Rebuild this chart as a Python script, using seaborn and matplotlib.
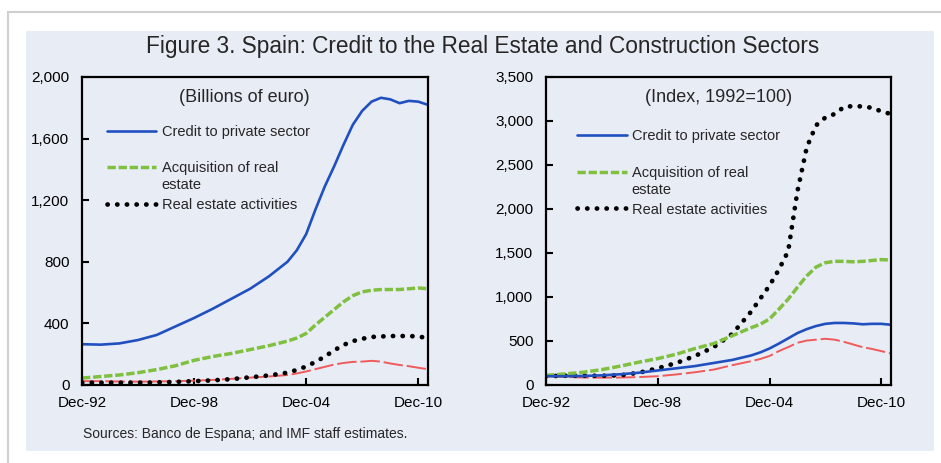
import pandas as pd
import matplotlib
matplotlib.use("Agg")
import matplotlib.pyplot as plt
import matplotlib.dates as mdates
from matplotlib.patches import Rectangle
from matplotlib.ticker import FuncFormatter
import seaborn as sns

# ==========================================
# 1. DATA
# ==========================================
dates = ['1992-12', '1993-12', '1994-12', '1995-12', '1996-12', '1997-12',
         '1998-12', '1999-12', '2000-12', '2001-12', '2002-12', '2003-12',
         '2004-06', '2004-12', '2005-06', '2005-12', '2006-06', '2006-12',
         '2007-06', '2007-12', '2008-06', '2008-12', '2009-06', '2009-12',
         '2010-06', '2010-12', '2011-06']

# Left panel: billions of euro
credit_bn = [265, 262, 270, 292, 325, 380, 435, 495, 560, 625, 705, 800,
             875, 980, 1140, 1290, 1420, 1560, 1690, 1780, 1840, 1865,
             1855, 1830, 1845, 1840, 1820]
acquisition_bn = [45, 55, 65, 80, 100, 125, 160, 185, 205, 230, 255, 285,
                  305, 335, 390, 440, 490, 540, 580, 605, 615, 620, 620,
                  620, 625, 630, 625]
activities_bn = [15, 15, 15, 15, 17, 20, 25, 30, 38, 50, 62, 80, 98, 120,
                 150, 185, 225, 260, 285, 300, 312, 315, 318, 318, 318,
                 315, 305]
construction_bn = [25, 25, 23, 22, 23, 25, 28, 33, 40, 48, 55, 65, 75, 88,
                   103, 118, 133, 143, 150, 152, 157, 152, 140, 130, 122,
                   112, 103]

# Right panel: index, 1992=100
credit_idx = [100, 100, 102, 110, 122, 140, 165, 190, 215, 250, 285, 335,
              370, 415, 470, 530, 590, 635, 670, 695, 705, 705, 700, 690,
              695, 695, 685]
acquisition_idx = [110, 125, 145, 175, 215, 260, 300, 350, 415, 470, 560,
                   650, 690, 750, 860, 975, 1110, 1240, 1340, 1390, 1405,
                   1405, 1400, 1405, 1415, 1425, 1420]
activities_idx = [100, 105, 105, 105, 110, 140, 190, 250, 330, 430, 580,
                  830, 980, 1130, 1310, 1520, 2200, 2700, 2950, 3040, 3080,
                  3160, 3170, 3165, 3150, 3110, 3080]
construction_idx = [100, 92, 85, 83, 85, 90, 100, 120, 145, 175, 225, 270,
                    295, 330, 385, 430, 480, 505, 515, 525, 515, 490, 460,
                    430, 410, 385, 360]

series_labels = ['Credit to private sector', 'Acquisition of real',
                 'Real estate activities']
x_ticks = ['1992-12-01', '1998-12-01', '2004-12-01', '2010-12-01']

left_df = pd.DataFrame({'date': pd.to_datetime(dates), 'credit': credit_bn,
                        'acquisition': acquisition_bn,
                        'activities': activities_bn,
                        'construction': construction_bn})
right_df = pd.DataFrame({'date': pd.to_datetime(dates), 'credit': credit_idx,
                         'acquisition': acquisition_idx,
                         'activities': activities_idx,
                         'construction': construction_idx})

# ==========================================
# 2. STYLE
# ==========================================
sns.set_style('ticks')
plt.rcParams['font.family'] = ['Liberation Sans', 'DejaVu Sans']

panel_bg = '#e8ecf5'
blue = '#2050c0'
green = '#80c040'
red = '#f05a5a'

W, H = 941, 463
fig = plt.figure(figsize=(W / 100, H / 100), dpi=100, facecolor='white')

# card and light panel behind the charts
fig.patches.append(Rectangle((8 / W, -0.1), 1.2, 1.1 - 12 / H,
                             transform=fig.transFigure, facecolor='white',
                             edgecolor='#cfcfcf', lw=1.5, zorder=-3))
fig.patches.append(Rectangle((26 / W, 1 - 451 / H), (934 - 26) / W,
                             (451 - 31) / H, transform=fig.transFigure,
                             facecolor=panel_bg, edgecolor='none', zorder=-2))

ax1 = fig.add_axes([82 / W, 1 - 385 / H, 346 / W, 308 / H])
ax2 = fig.add_axes([546 / W, 1 - 385 / H, 345 / W, 308 / H])


def draw_panel(ax, df, ymax, ystep, subtitle, sub_x, leg_x, leg_y):
    ax.set_facecolor(panel_bg)
    sns.lineplot(data=df, x='date', y='construction', ax=ax, color=red,
                 linewidth=1.4, linestyle=(0, (10, 2)), legend=False)
    sns.lineplot(data=df, x='date', y='activities', ax=ax, color='black',
                 linewidth=3.4, linestyle=(0, (0.05, 2)),
                 dash_capstyle='round', legend=False)
    sns.lineplot(data=df, x='date', y='acquisition', ax=ax, color=green,
                 linewidth=2.5, linestyle=(0, (2.4, 0.8)), legend=False)
    sns.lineplot(data=df, x='date', y='credit', ax=ax, color=blue,
                 linewidth=1.9, legend=False)

    ax.set(xlabel='', ylabel='')
    ax.set_xlim(pd.Timestamp('1992-12-01'), pd.Timestamp('2011-06-10'))
    ax.set_ylim(0, ymax)
    ax.set_yticks(range(0, ymax + 1, ystep))
    ax.yaxis.set_major_formatter(FuncFormatter(lambda v, p: f'{int(v):,}'))
    ax.set_xticks(pd.to_datetime(x_ticks))
    ax.xaxis.set_major_formatter(mdates.DateFormatter('%b-%y'))
    ax.tick_params(direction='in', length=5, width=1.5, labelsize=11,
                   colors='black')
    ax.tick_params(axis='y', pad=9)
    ax.tick_params(axis='x', pad=8)
    for s in ax.spines.values():
        s.set_visible(True)
        s.set_linewidth(1.6)
        s.set_color('black')

    ax.text(sub_x, 0.932, subtitle, transform=ax.transAxes, ha='center',
            va='center', fontsize=13)

    lines = ax.get_lines()
    handles = [lines[3], lines[2], lines[1]]
    leg = ax.legend(handles, series_labels, loc='upper left',
                    bbox_to_anchor=(leg_x, leg_y), frameon=False,
                    fontsize=10.5, handlelength=3.4, handletextpad=0.35,
                    labelspacing=1.55, borderpad=0, borderaxespad=0)
    # second line of the wrapped legend label
    ax.annotate('estate', xy=(0, 0), xycoords=leg.get_texts()[1],
                xytext=(0, -2), textcoords='offset points', ha='left',
                va='top', fontsize=10.5, zorder=10)


draw_panel(ax1, left_df, 2000, 400, '(Billions of euro)', 0.47, 0.072, 0.845)
draw_panel(ax2, right_df, 3500, 500, '(Index, 1992=100)', 0.5, 0.09, 0.83)

fig.text(483 / W, 1 - 47 / H,
         'Figure 3. Spain: Credit to the Real Estate and Construction Sectors',
         ha='center', va='center', fontsize=16.3)
fig.text(83 / W, 1 - 434 / H,
         'Sources: Banco de Espana; and IMF staff estimates.',
         ha='left', va='center', fontsize=10)

fig.savefig('out.png', dpi=100, facecolor='white')
